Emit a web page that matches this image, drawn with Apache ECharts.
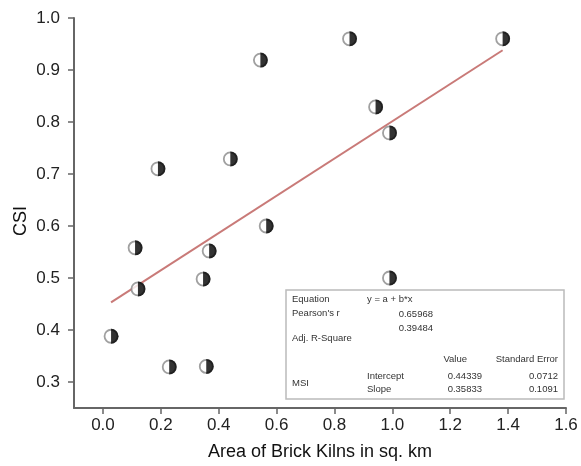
<!DOCTYPE html>
<html>
<head>
<meta charset="utf-8">
<script src="https://cdn.jsdelivr.net/npm/echarts@6/dist/echarts.min.js"></script>
<style>html,body{margin:0;padding:0;background:#fff;}#c{width:581px;height:466px;}</style>
</head>
<body>
<div id="c"></div>
<script>
// Data
var areaKm = [0.028, 0.121, 0.111, 0.229, 0.357, 0.346, 0.367, 0.19, 0.44, 0.544, 0.852, 0.942, 0.99, 0.564, 0.99, 1.381];
var csi    = [0.388, 0.479, 0.558, 0.329, 0.33, 0.498, 0.552, 0.71, 0.729, 0.919, 0.96, 0.829, 0.779, 0.6, 0.5, 0.96];
var fitX = [0.028, 1.381];
var fitY = [0.453, 0.938];
var xTicks = [0, 0.2, 0.4, 0.6, 0.8, 1.0, 1.2, 1.4, 1.6];
var yTicks = [0.3, 0.4, 0.5, 0.6, 0.7, 0.8, 0.9, 1.0];
var statsRows = [
  ["Equation", "y = a + b*x"],
  ["Pearson's r", "0.65968"],
  ["Adj. R-Square", "0.39484"]
];
var coefNames = ["Intercept", "Slope"];
var coefValues = ["0.44339", "0.35833"];
var coefErrors = ["0.0712", "0.1091"];

var pts = areaKm.map(function (x, i) { return [x, csi[i]]; });
var fit = fitX.map(function (x, i) { return [x, fitY[i]]; });

var FONT = "'Liberation Sans', Arial, sans-serif";
var axisCol = '#666';
var chart = echarts.init(document.getElementById('c'), null, {renderer: 'canvas'});

var tSmall = {fontFamily: FONT, fontSize: 9.5, fill: '#333'};
function txt(x, y, s, align) {
  return {type: 'text', x: x, y: y, z: 100,
    style: Object.assign({text: s, textAlign: align || 'left', textVerticalAlign: 'middle'}, tSmall)};
}
var graphics = [
  {type: 'rect', shape: {x: 286, y: 290, width: 278, height: 109}, z: 90,
   style: {fill: '#fff', stroke: '#bbb', lineWidth: 1.5}},
  txt(292, 299, statsRows[0][0]), txt(367, 299, statsRows[0][1]),
  txt(292, 313, statsRows[1][0]), txt(433, 314, statsRows[1][1], 'right'),
  txt(292, 338, statsRows[2][0]), txt(433, 328, statsRows[2][1], 'right'),
  txt(467, 359, 'Value', 'right'), txt(558, 359, 'Standard Error', 'right'),
  txt(367, 376, coefNames[0]), txt(482, 376, coefValues[0], 'right'), txt(558, 376, coefErrors[0], 'right'),
  txt(367, 389, coefNames[1]), txt(482, 389, coefValues[1], 'right'), txt(558, 389, coefErrors[1], 'right'),
  txt(292, 383, 'MSI'),
  {type: 'text', x: 21, y: 221, rotation: Math.PI / 2, z: 100,
   style: {text: 'CSI', fontFamily: FONT, fontSize: 18, fill: '#111', textAlign: 'center', textVerticalAlign: 'middle'}}
];

chart.setOption({
  animation: false,
  backgroundColor: '#fff',
  grid: {left: 74, right: 15, top: 18, bottom: 58, containLabel: false},
  xAxis: {
    type: 'value', min: -0.1, max: 1.6,
    name: 'Area of Brick Kilns in sq. km', nameLocation: 'middle', nameGap: 35,
    nameTextStyle: {fontFamily: FONT, fontSize: 18, color: '#111'},
    axisLine: {show: true, onZero: false, lineStyle: {color: axisCol, width: 2}},
    axisTick: {show: true, inside: false, length: 6, customValues: xTicks, lineStyle: {color: axisCol, width: 1.5}},
    axisLabel: {customValues: xTicks, margin: 9, fontFamily: FONT, fontSize: 17, color: '#222',
      formatter: function (v) { return v.toFixed(1); }},
    splitLine: {show: false}
  },
  yAxis: {
    type: 'value', min: 0.25, max: 1.0,
    axisLine: {show: true, onZero: false, lineStyle: {color: axisCol, width: 2}},
    axisTick: {show: true, inside: false, length: 6, customValues: yTicks, lineStyle: {color: axisCol, width: 1.5}},
    axisLabel: {customValues: yTicks, margin: 14, fontFamily: FONT, fontSize: 17, color: '#222',
      formatter: function (v) { return v.toFixed(1); }},
    splitLine: {show: false}
  },
  graphic: graphics,
  series: [
    {type: 'line', data: fit, symbol: 'none', z: 2,
     lineStyle: {color: '#c97a78', width: 2}},
    {type: 'scatter', data: pts, symbol: 'circle', symbolSize: 13, z: 3,
     itemStyle: {color: '#fff', borderColor: '#888', borderWidth: 1.8}},
    {type: 'scatter', data: pts, symbol: 'path://M0,0 A10,10 0 0,1 0,20 Z', symbolSize: [7.5, 15],
     symbolOffset: [3.75, 0], symbolKeepAspect: false, z: 4,
     itemStyle: {color: '#000'}}
  ]
});
</script>
</body>
</html>
